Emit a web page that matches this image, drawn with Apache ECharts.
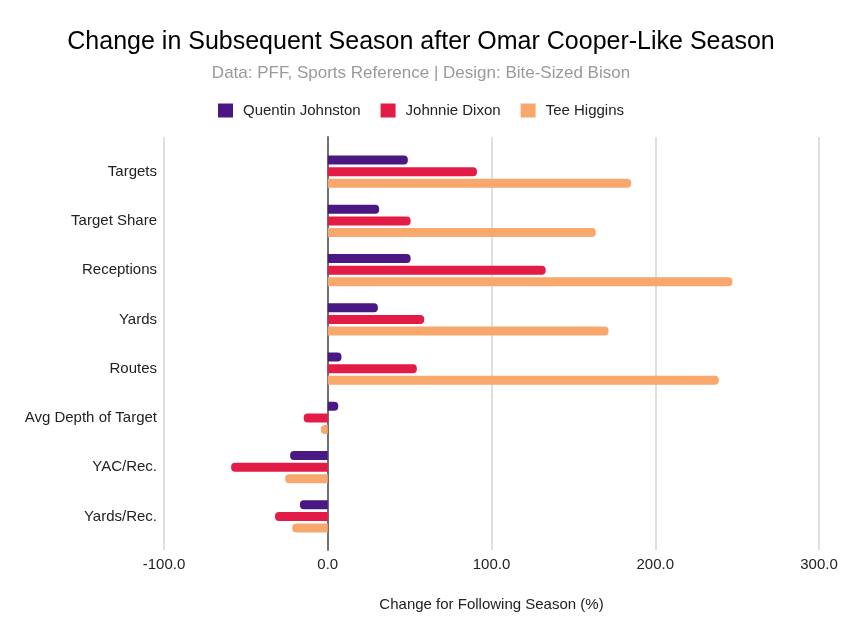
<!DOCTYPE html>
<html>
<head>
<meta charset="utf-8">
<script src="https://cdn.jsdelivr.net/npm/echarts@6/dist/echarts.min.js"></script>
<style>html,body{margin:0;padding:0;background:#fff}#c{width:842px;height:635px}</style>
</head>
<body>
<div id="c"></div>
<script>
const categories = ["Targets","Target Share","Receptions","Yards","Routes","Avg Depth of Target","YAC/Rec.","Yards/Rec."];
const seriesNames = ["Quentin Johnston","Johnnie Dixon","Tee Higgins"];
const quentinJohnston = [48.9, 31.4, 50.6, 30.6, 8.4, 6.4, -23.0, -17.0];
const johnnieDixon = [91.1, 50.6, 133.1, 58.9, 54.4, -14.7, -59.0, -32.2];
const teeHiggins = [185.3, 163.7, 247.1, 171.5, 238.8, -4.2, -26.0, -21.7];
const xTicks = [-100, 0, 100, 200, 300];
const colors = ["#4a1883", "#e31b47", "#f8a86c"];
const FONT = "Liberation Sans, Arial, sans-serif";

function items(arr){
  return arr.map(v => ({value: v, itemStyle: {borderRadius: v >= 0 ? [0,4,4,0] : [4,0,0,4]}}));
}
const values = [quentinJohnston, johnnieDixon, teeHiggins];

const chart = echarts.init(document.getElementById('c'), null, {renderer: 'canvas'});
chart.setOption({
  backgroundColor: '#fff',
  animation: false,
  textStyle: {fontFamily: FONT},
  title: [{
    text: 'Change in Subsequent Season after Omar Cooper-Like Season',
    left: 'center', top: 25,
    textStyle: {fontFamily: FONT, fontSize: 25, fontWeight: 'normal', color: '#000'}
  },{
    text: 'Data: PFF, Sports Reference | Design: Bite-Sized Bison',
    left: 'center', top: 60,
    textStyle: {fontFamily: FONT, fontSize: 17, fontWeight: 'normal', color: '#9a9a9a'}
  }],
  legend: {
    top: 98, left: 'center',
    itemWidth: 15, itemHeight: 14, itemGap: 20,
    icon: 'rect',
    textStyle: {fontFamily: FONT, fontSize: 15, color: '#222', padding: [0, 0, 0, 5]},
    data: seriesNames
  },
  grid: [
    {left: 164, right: 23, top: 137, bottom: 85, containLabel: false},
    {left: 164, right: 23, top: 147, bottom: 94, containLabel: false}
  ],
  xAxis: [{
    gridIndex: 0, type: 'value', min: xTicks[0], max: xTicks[xTicks.length-1], interval: 100,
    axisLine: {show: false}, axisTick: {show: false},
    splitLine: {show: true, lineStyle: {color: '#d4d4d4', width: 1.5}},
    axisLabel: {formatter: v => v.toFixed(1), fontFamily: FONT, fontSize: 15, color: '#222', margin: 7},
    name: 'Change for Following Season (%)', nameLocation: 'middle', nameGap: 47,
    nameTextStyle: {fontFamily: FONT, fontSize: 15, color: '#222'}
  },{
    gridIndex: 1, type: 'value', min: xTicks[0], max: xTicks[xTicks.length-1], interval: 100,
    show: false
  }],
  yAxis: [{
    gridIndex: 0, type: 'value', min: 0, max: 1,
    axisLine: {show: true, onZero: true, lineStyle: {color: '#707070', width: 2}},
    axisTick: {show: false}, axisLabel: {show: false}, splitLine: {show: false}
  },{
    gridIndex: 1, type: 'category', inverse: true, data: categories,
    axisLine: {show: false}, axisTick: {show: false}, splitLine: {show: false},
    axisLabel: {fontFamily: FONT, fontSize: 15, color: '#222', margin: 7}
  }],
  series: seriesNames.map((n, i) => ({
    name: n, type: 'bar', xAxisIndex: 1, yAxisIndex: 1,
    barWidth: 9, barGap: '30%',
    itemStyle: {color: colors[i]},
    data: items(values[i])
  })),
  color: colors
});
</script>
</body>
</html>
